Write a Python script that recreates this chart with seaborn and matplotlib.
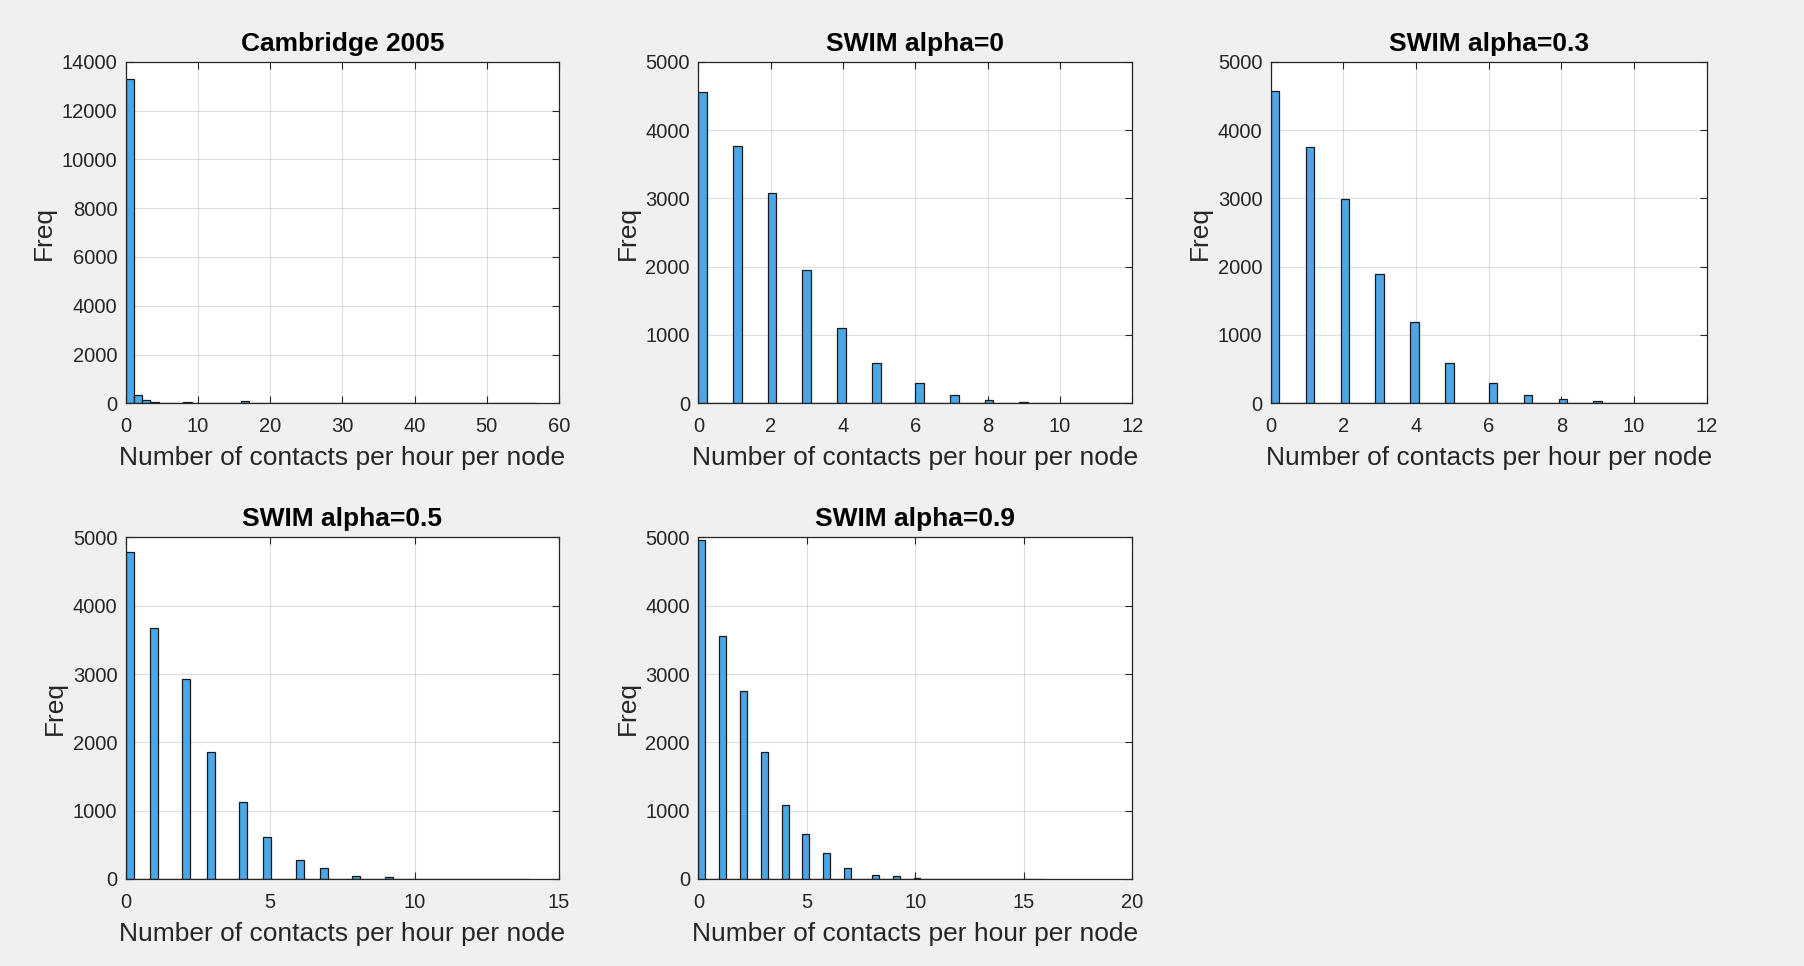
import numpy as np
import pandas as pd
import matplotlib
matplotlib.use("Agg")
import matplotlib.pyplot as plt
import seaborn as sns

# Conteos por valor entero (contactos por hora por nodo)
cam_values = [0, 1, 2, 3, 4, 5, 6, 7, 8, 9, 10, 11, 12, 13, 14, 15, 16, 17,
              20, 25, 30, 38, 45, 57]
cam_counts = [13000, 300, 350, 140, 35, 30, 30, 30, 35, 35, 28, 25, 25, 25, 20, 8, 40, 40,
              3, 2, 2, 1, 1, 1]

swim_values = [0, 1, 2, 3, 4, 5, 6, 7, 8, 9, 10]
a0_counts = [4550, 3765, 3075, 1945, 1100, 595, 295, 122, 49, 15, 0]
a03_counts = [4565, 3745, 2995, 1900, 1190, 595, 295, 117, 58, 30, 0]
a05_counts = [4780, 3680, 2925, 1855, 1120, 610, 283, 156, 49, 29, 0]
a09_counts = [4960, 3560, 2755, 1860, 1085, 665, 377, 157, 64, 49, 15]

titles = ["Cambridge 2005", "SWIM alpha=0", "SWIM alpha=0.3", "SWIM alpha=0.5", "SWIM alpha=0.9"]
bin_max = [57, 12, 12, 14, 16]
x_max = [60, 12, 12, 15, 20]
x_step = [10, 2, 2, 5, 5]
y_max = [14000, 5000, 5000, 5000, 5000]
y_step = [2000, 1000, 1000, 1000, 1000]

datasets = [
    (cam_values, cam_counts),
    (swim_values, a0_counts),
    (swim_values, a03_counts),
    (swim_values, a05_counts),
    (swim_values, a09_counts),
]

sns.set_theme(style="ticks")
plt.rcParams['font.family'] = ['Liberation Sans', 'DejaVu Sans']
plt.rcParams['axes.edgecolor'] = '#262626'
plt.rcParams['xtick.color'] = '#262626'
plt.rcParams['ytick.color'] = '#262626'

fig = plt.figure(figsize=(18.04, 9.66), dpi=100, facecolor='#f0f0f0')

# posiciones de los ejes (fracciones de la figura)
positions = [
    [0.0697, 0.5825, 0.2402, 0.3536],
    [0.3871, 0.5825, 0.2405, 0.3536],
    [0.7044, 0.5825, 0.2417, 0.3536],
    [0.0697, 0.0901, 0.2402, 0.3536],
    [0.3871, 0.0901, 0.2405, 0.3536],
]

for i, (vals, counts) in enumerate(datasets):
    ax = fig.add_axes(positions[i])
    df = pd.DataFrame({"x": vals, "n": counts})
    sns.histplot(data=df, x="x", weights="n", bins=50, binrange=(0, bin_max[i]),
                 color="#4DA6E6", alpha=1.0, edgecolor="#1a1a1a", linewidth=0.9, ax=ax)
    ax.set_xlim(0, x_max[i])
    ax.set_ylim(0, y_max[i])
    ax.set_xticks(np.arange(0, x_max[i] + 1, x_step[i]))
    ax.set_yticks(np.arange(0, y_max[i] + 1, y_step[i]))
    ax.grid(True, color='#262626', alpha=0.15, linewidth=0.8)
    ax.set_axisbelow(True)
    ax.tick_params(direction='in', length=5, width=0.8, labelsize=14.5,
                   top=True, right=True)
    ax.tick_params(axis='x', pad=10)
    ax.tick_params(axis='y', pad=6)
    for s in ax.spines.values():
        s.set_linewidth(0.9)
    ax.set_facecolor('white')
    ax.set_title(titles[i], fontsize=19, fontweight='bold', color='black', pad=8)
    ax.set_xlabel("Number of contacts per hour per node", fontsize=19, color='#262626', labelpad=7)
    ax.set_ylabel("Freq", fontsize=19, color='#262626', labelpad=4)

plt.savefig("out.png", dpi=100, facecolor=fig.get_facecolor())
plt.close()
